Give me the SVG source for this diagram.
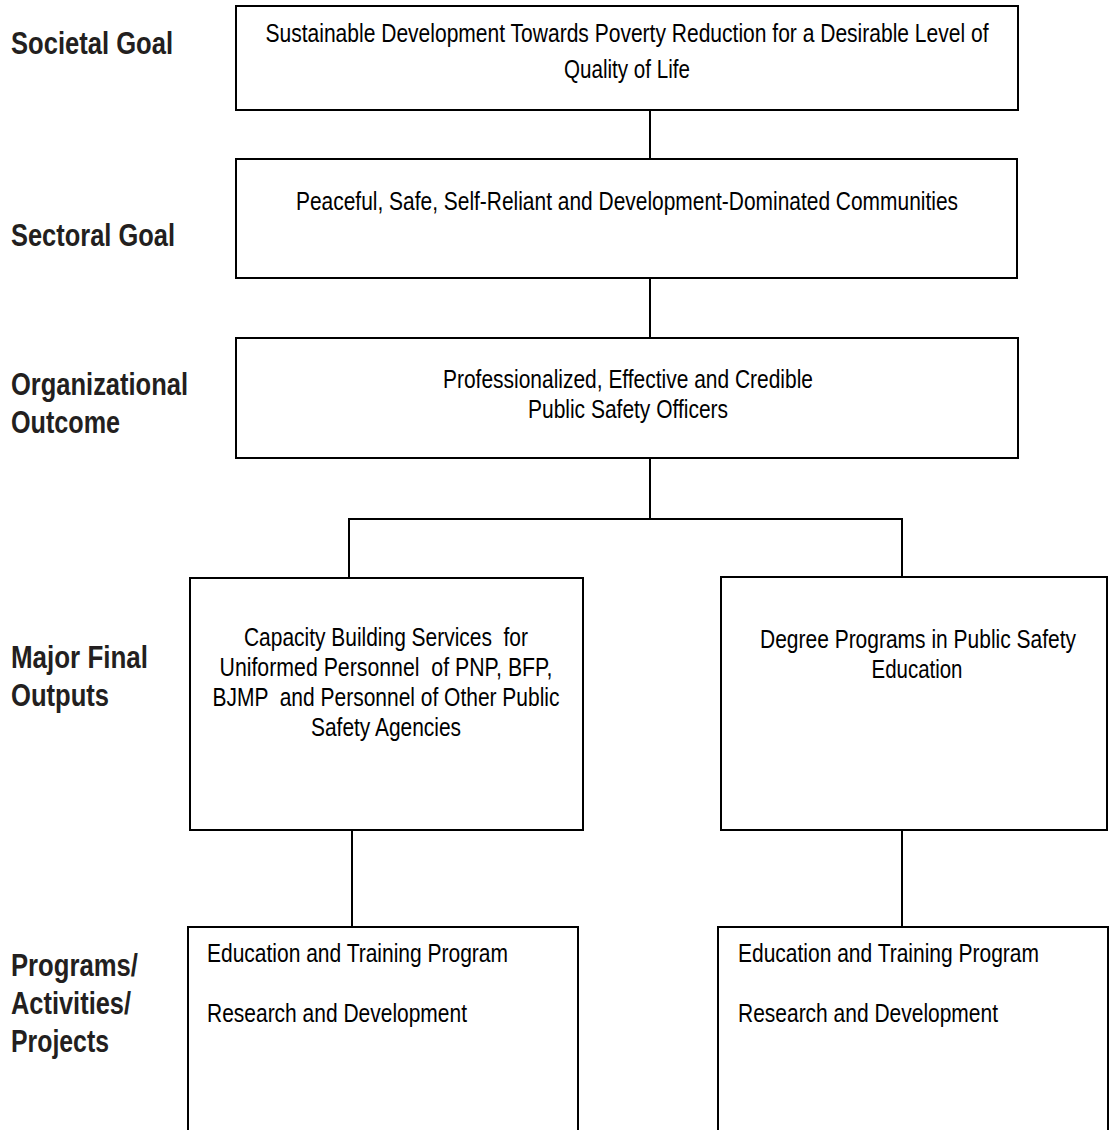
<svg xmlns="http://www.w3.org/2000/svg" width="1109" height="1130" viewBox="0 0 1109 1130">
<style>
.bg{fill:#ffffff}
.box{fill:#ffffff;stroke:#000000;stroke-width:2}
.ln{fill:none;stroke:#000000;stroke-width:2}
.lbl{font-family:"Liberation Sans Narrow","Arial Narrow","Liberation Sans",Arial,sans-serif;font-weight:bold;font-size:31px;fill:#231f20}
.t{font-family:"Liberation Sans Narrow","Arial Narrow","Liberation Sans",Arial,sans-serif;font-size:25px;fill:#000000}
.c{text-anchor:middle}
</style>
<rect class="bg" x="0" y="0" width="1109" height="1130"/>
<g id="labels">
<text class="lbl" x="11" y="54" textLength="162" lengthAdjust="spacingAndGlyphs">Societal Goal</text>
<text class="lbl" x="11" y="246" textLength="164" lengthAdjust="spacingAndGlyphs">Sectoral Goal</text>
<text class="lbl" x="11" y="395" textLength="177" lengthAdjust="spacingAndGlyphs">Organizational</text>
<text class="lbl" x="11" y="433" textLength="109" lengthAdjust="spacingAndGlyphs">Outcome</text>
<text class="lbl" x="11" y="668" textLength="137" lengthAdjust="spacingAndGlyphs">Major Final</text>
<text class="lbl" x="11" y="706" textLength="98" lengthAdjust="spacingAndGlyphs">Outputs</text>
<text class="lbl" x="11" y="976" textLength="127" lengthAdjust="spacingAndGlyphs">Programs/</text>
<text class="lbl" x="11" y="1014" textLength="120" lengthAdjust="spacingAndGlyphs">Activities/</text>
<text class="lbl" x="11" y="1052" textLength="98" lengthAdjust="spacingAndGlyphs">Projects</text>
</g>
<g id="connectors">
<line class="ln" x1="650" y1="110" x2="650" y2="159"/>
<line class="ln" x1="650" y1="278" x2="650" y2="338"/>
<line class="ln" x1="650" y1="458" x2="650" y2="519"/>
<polyline class="ln" points="349,578 349,519 902,519 902,577"/>
<line class="ln" x1="352" y1="830" x2="352" y2="927"/>
<line class="ln" x1="902" y1="830" x2="902" y2="927"/>
</g>
<g id="societal-goal">
<rect class="box" x="236" y="6" width="782" height="104"/>
<text class="t c" x="627" y="42" textLength="723" lengthAdjust="spacingAndGlyphs">Sustainable Development Towards Poverty Reduction for a Desirable Level of</text>
<text class="t c" x="627" y="78" textLength="126" lengthAdjust="spacingAndGlyphs">Quality of Life</text>
</g>
<g id="sectoral-goal">
<rect class="box" x="236" y="159" width="781" height="119"/>
<text class="t c" x="627" y="210" textLength="662" lengthAdjust="spacingAndGlyphs">Peaceful, Safe, Self-Reliant and Development-Dominated Communities</text>
</g>
<g id="organizational-outcome">
<rect class="box" x="236" y="338" width="782" height="120"/>
<text class="t c" x="628" y="388" textLength="370" lengthAdjust="spacingAndGlyphs">Professionalized, Effective and Credible</text>
<text class="t c" x="628" y="418" textLength="200" lengthAdjust="spacingAndGlyphs">Public Safety Officers</text>
</g>
<g id="mfo-capacity">
<rect class="box" x="190" y="578" width="393" height="252"/>
<text class="t c" x="386" y="646" textLength="284" lengthAdjust="spacingAndGlyphs" xml:space="preserve">Capacity Building Services  for</text>
<text class="t c" x="386" y="676" textLength="333" lengthAdjust="spacingAndGlyphs" xml:space="preserve">Uniformed Personnel  of PNP, BFP,</text>
<text class="t c" x="386" y="706" textLength="347" lengthAdjust="spacingAndGlyphs" xml:space="preserve">BJMP  and Personnel of Other Public</text>
<text class="t c" x="386" y="736" textLength="150" lengthAdjust="spacingAndGlyphs">Safety Agencies</text>
</g>
<g id="mfo-degree">
<rect class="box" x="721" y="577" width="386" height="253"/>
<text class="t c" x="918" y="648" textLength="316" lengthAdjust="spacingAndGlyphs">Degree Programs in Public Safety</text>
<text class="t c" x="917" y="678" textLength="91" lengthAdjust="spacingAndGlyphs">Education</text>
</g>
<g id="paps-left">
<rect class="box" x="188" y="927" width="390" height="220"/>
<text class="t" x="207" y="962" textLength="301" lengthAdjust="spacingAndGlyphs">Education and Training Program</text>
<text class="t" x="207" y="1022" textLength="260" lengthAdjust="spacingAndGlyphs">Research and Development</text>
</g>
<g id="paps-right">
<rect class="box" x="718" y="927" width="390" height="220"/>
<text class="t" x="738" y="962" textLength="301" lengthAdjust="spacingAndGlyphs">Education and Training Program</text>
<text class="t" x="738" y="1022" textLength="260" lengthAdjust="spacingAndGlyphs">Research and Development</text>
</g>
</svg>
